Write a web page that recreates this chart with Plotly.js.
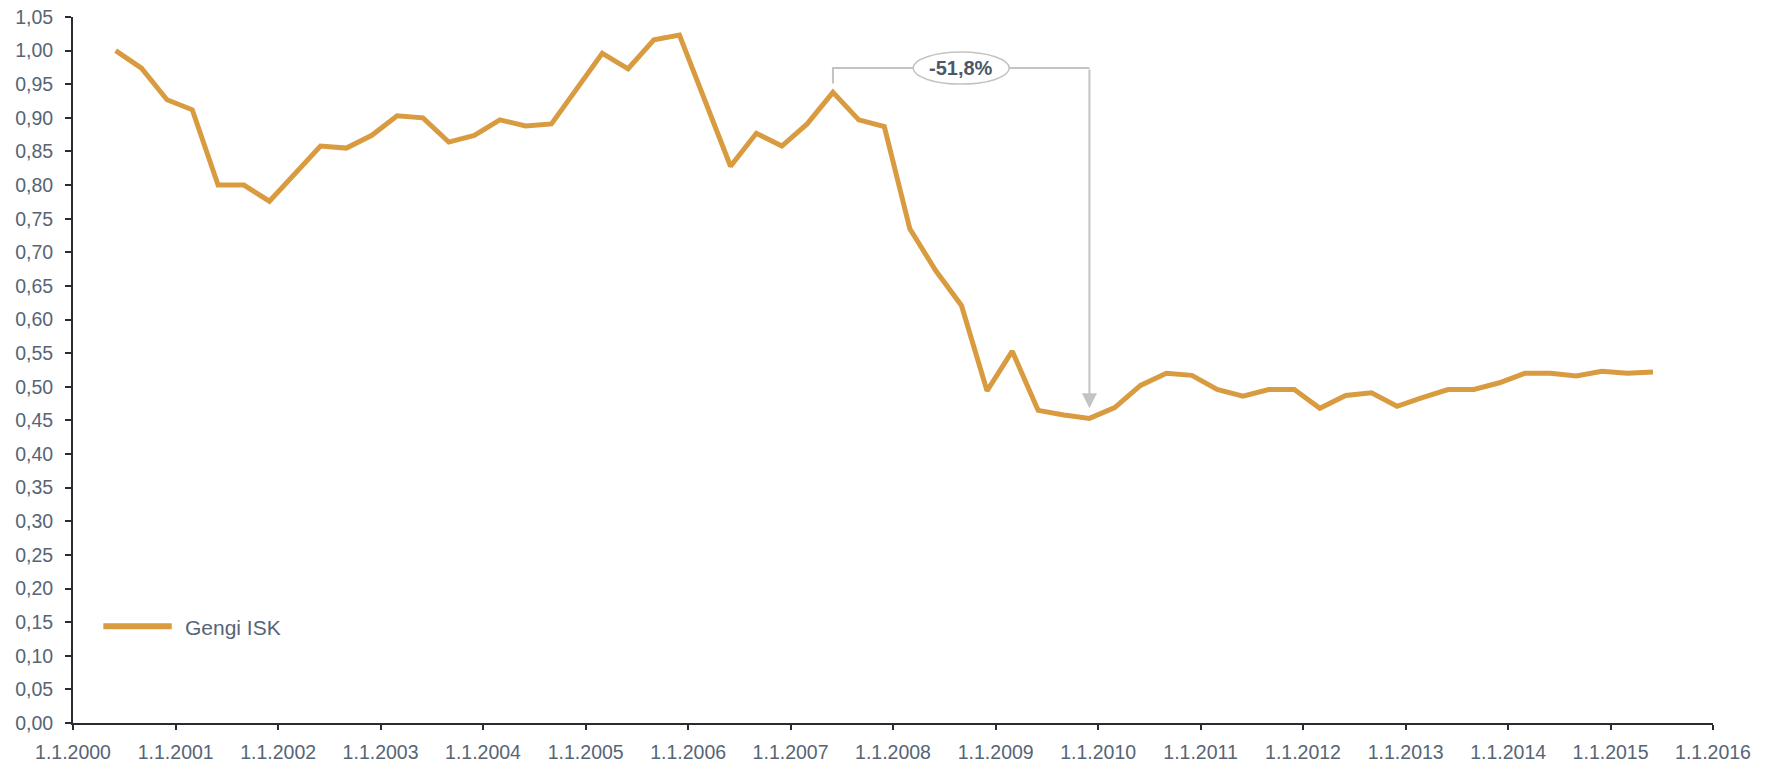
<!DOCTYPE html>
<html>
<head>
<meta charset="utf-8">
<script src="https://cdn.plot.ly/plotly-3.0.1.min.js"></script>
<style>
  html, body { margin: 0; padding: 0; background: #ffffff; }
  #chart { width: 1769px; height: 766px; }
</style>
</head>
<body>
<div id="chart"></div>
<script>
// ---- Data ----
const seriesName = 'Gengi ISK';
const dates = [
  '2000-06-01','2000-09-01','2000-12-01',
  '2001-03-01','2001-06-01','2001-09-01','2001-12-01',
  '2002-03-01','2002-06-01','2002-09-01','2002-12-01',
  '2003-03-01','2003-06-01','2003-09-01','2003-12-01',
  '2004-03-01','2004-06-01','2004-09-01','2004-12-01',
  '2005-03-01','2005-06-01','2005-09-01','2005-12-01',
  '2006-03-01','2006-06-01','2006-09-01','2006-12-01',
  '2007-03-01','2007-06-01','2007-09-01','2007-12-01',
  '2008-03-01','2008-06-01','2008-09-01','2008-12-01',
  '2009-03-01','2009-06-01','2009-09-01','2009-12-01',
  '2010-03-01','2010-06-01','2010-09-01','2010-12-01',
  '2011-03-01','2011-06-01','2011-09-01','2011-12-01',
  '2012-03-01','2012-06-01','2012-09-01','2012-12-01',
  '2013-03-01','2013-06-01','2013-09-01','2013-12-01',
  '2014-03-01','2014-06-01','2014-09-01','2014-12-01',
  '2015-03-01','2015-06-01'
];
const values = [
  1.000, 0.974, 0.927,
  0.912, 0.800, 0.800, 0.776,
  0.817, 0.858, 0.855, 0.874,
  0.903, 0.900, 0.864, 0.874,
  0.897, 0.888, 0.891, 0.943,
  0.996, 0.973, 1.016, 1.023,
  0.926, 0.828, 0.877, 0.858,
  0.891, 0.938, 0.897, 0.887,
  0.735, 0.673, 0.621, 0.494,
  0.553, 0.465, 0.458, 0.453,
  0.469, 0.502, 0.520, 0.517,
  0.496, 0.486, 0.496, 0.496,
  0.468, 0.487, 0.491, 0.471,
  0.484, 0.496, 0.496, 0.506,
  0.520, 0.520, 0.516, 0.523,
  0.520, 0.522
];
const tickYears = [2000,2001,2002,2003,2004,2005,2006,2007,2008,2009,2010,2011,2012,2013,2014,2015,2016];
const tickLabels = tickYears.map(y => '1.1.' + y);
const changeLabel = '-51,8%';
const peakDate = '2007-06-01';
const troughDate = '2009-12-01';

// ---- Styles ----
const lineColor = '#D99B40';
const axisColor = '#2B2A33';
const labelColor = '#566575';
const annColor = '#C3C3C3';
const fontFamily = '"Liberation Sans", Arial, sans-serif';

const peakIdx = dates.indexOf(peakDate);
const troughIdx = dates.indexOf(troughDate);
const peakX = dates[peakIdx];
const troughX = dates[troughIdx];
const midX = new Date((new Date(peakX).getTime() + new Date(troughX).getTime()) / 2).toISOString().slice(0, 10);
const bracketTop = 0.974;
const bracketLeftBottom = 0.951;
const arrowTip = 0.468;

const trace = {
  type: 'scatter',
  mode: 'lines',
  name: seriesName,
  x: dates,
  y: values,
  line: { color: lineColor, width: 5 },
  showlegend: false,
  hoverinfo: 'x+y'
};

const layout = {
  width: 1769,
  height: 766,
  margin: { l: 73, r: 56, t: 17, b: 43 },
  paper_bgcolor: '#ffffff',
  plot_bgcolor: '#ffffff',
  separators: ',.',
  font: { family: fontFamily, color: labelColor, size: 19 },
  showlegend: false,
  xaxis: {
    type: 'date',
    range: ['2000-01-01', '2016-01-01'],
    tickmode: 'array',
    tickvals: tickYears.map(y => y + '-01-01'),
    ticktext: tickLabels,
    showgrid: false,
    zeroline: false,
    showline: true,
    linecolor: axisColor,
    linewidth: 2,
    ticks: 'outside',
    ticklen: 5,
    tickwidth: 2,
    tickcolor: axisColor,
    ticklabelstandoff: 6,
    tickfont: { family: fontFamily, size: 19.5, color: labelColor },
    fixedrange: true
  },
  yaxis: {
    range: [0, 1.05],
    tickmode: 'linear',
    tick0: 0,
    dtick: 0.05,
    tickformat: '.2f',
    showgrid: false,
    zeroline: false,
    showline: true,
    linecolor: axisColor,
    linewidth: 2,
    ticks: 'outside',
    ticklen: 6,
    tickwidth: 2,
    tickcolor: axisColor,
    ticklabelstandoff: 8,
    tickfont: { family: fontFamily, size: 19.5, color: labelColor },
    fixedrange: true
  },
  shapes: [
    {
      type: 'path',
      xref: 'x', yref: 'y',
      path: 'M ' + peakX + ',' + bracketLeftBottom + ' L ' + peakX + ',' + bracketTop + ' L ' + troughX + ',' + bracketTop,
      line: { color: annColor, width: 2 },
      layer: 'above'
    },
    {
      type: 'circle',
      xref: 'x', yref: 'y',
      xsizemode: 'pixel', ysizemode: 'pixel',
      xanchor: midX, yanchor: bracketTop,
      x0: -48, x1: 48, y0: -16, y1: 16,
      fillcolor: '#ffffff',
      line: { color: annColor, width: 1.5 },
      layer: 'above'
    },
    {
      type: 'line',
      xref: 'paper', yref: 'paper',
      x0: 0.0185, x1: 0.0602, y0: 0.137, y1: 0.137,
      line: { color: lineColor, width: 6 }
    }
  ],
  annotations: [
    {
      x: troughX, y: arrowTip, xref: 'x', yref: 'y',
      ax: troughX, ay: bracketTop, axref: 'x', ayref: 'y',
      text: '',
      showarrow: true,
      arrowhead: 2,
      arrowsize: 1.5,
      arrowwidth: 2,
      arrowcolor: annColor,
      standoff: 0,
      startstandoff: 0
    },
    {
      x: midX, y: bracketTop, xref: 'x', yref: 'y',
      text: '<b>' + changeLabel + '</b>',
      showarrow: false,
      font: { family: fontFamily, size: 20, color: '#4A5969' },
      xanchor: 'center', yanchor: 'middle'
    },
    {
      x: 0.0669, y: 0.1346, xref: 'paper', yref: 'paper',
      text: seriesName,
      showarrow: false,
      xanchor: 'left', yanchor: 'middle',
      font: { family: fontFamily, size: 21, color: labelColor }
    }
  ]
};

Plotly.newPlot('chart', [trace], layout, { displayModeBar: false, staticPlot: true });
</script>
</body>
</html>
